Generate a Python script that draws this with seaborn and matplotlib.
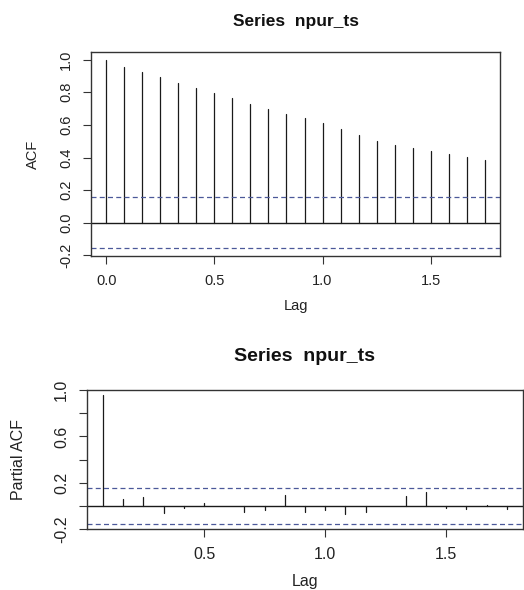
import numpy as np
import pandas as pd
import matplotlib
matplotlib.use('Agg')
import matplotlib.pyplot as plt
import seaborn as sns

sns.set_theme(style='white')
plt.rcParams['font.family'] = ['Liberation Sans', 'DejaVu Sans']

# monthly series, lags shown in years
freq = 12
acf_lag_months = [0, 1, 2, 3, 4, 5, 6, 7, 8, 9, 10, 11, 12, 13, 14, 15, 16, 17, 18, 19, 20, 21]
acf_vals = [1.000, 0.957, 0.922, 0.893, 0.858, 0.827, 0.794, 0.763, 0.726, 0.695, 0.667,
            0.640, 0.609, 0.572, 0.537, 0.504, 0.477, 0.461, 0.440, 0.420, 0.401, 0.383]

pacf_lag_months = [1, 2, 3, 4, 5, 6, 7, 8, 9, 10, 11, 12, 13, 14, 15, 16, 17, 18, 19, 20, 21]
pacf_vals = [0.957, 0.058, 0.075, -0.058, -0.022, 0.024, -0.003, -0.055, -0.038, 0.098, -0.052,
             -0.037, -0.069, -0.049, 0.002, 0.089, 0.118, -0.017, -0.028, 0.010, -0.024]

conf_lim = 0.157   # 1.96/sqrt(n)
title = 'Series  npur_ts'

line_col = '#1a1a1a'
ci_col = '#4b5899'
frame_col = '#333333'


def r_range(vals):
    # R style: data range expanded by 4%
    lo, hi = min(vals), max(vals)
    d = (hi - lo) * 0.04
    return lo - d, hi + d


def draw_corr(ax, lag_months, vals, ylab, yticklabels, fs_tick, fs_title, title_pad):
    lags = np.array(lag_months) / freq
    df = pd.DataFrame({
        'lag': np.repeat(lags, 2),
        'val': np.ravel([[0.0, v] for v in vals]),
        'k': np.repeat(np.arange(len(lags)), 2),
    })
    sns.lineplot(data=df, x='lag', y='val', units='k', estimator=None,
                 color=line_col, lw=0.9, ax=ax, legend=False)
    ax.axhline(0, color=line_col, lw=1.0)
    for c in (conf_lim, -conf_lim):
        ax.axhline(c, color=ci_col, lw=0.9, ls=(0, (4, 2.6)))

    ax.set_xticks([0.0, 0.5, 1.0, 1.5])
    ax.set_xticklabels(['0.0', '0.5', '1.0', '1.5'])
    ax.set_yticks([-0.2, 0.0, 0.2, 0.4, 0.6, 0.8, 1.0])
    ax.set_yticklabels(yticklabels)
    # limits after ticks so out-of-range ticks are dropped
    ax.set_xlim(*r_range(list(lags)))
    ax.set_ylim(*r_range(list(vals) + [conf_lim, -conf_lim]))

    ax.tick_params(bottom=True, left=True, direction='out', length=6, width=0.8,
                   color=frame_col, labelsize=fs_tick, labelcolor='#222222', pad=7)
    for lab in ax.get_yticklabels():
        lab.set_rotation(90)
        lab.set_verticalalignment('center')
    for sp in ax.spines.values():
        sp.set_visible(True)
        sp.set_color(frame_col)
        sp.set_linewidth(1.0)

    ax.set_xlabel('Lag', fontsize=fs_tick, color='#222222')
    ax.set_ylabel(ylab, fontsize=fs_tick, color='#222222')
    ax.set_title(title, fontsize=fs_title, fontweight='bold', color='#111111', pad=title_pad)


fig = plt.figure(figsize=(5.24, 5.9), dpi=100)
fig.patch.set_facecolor('white')

ax1 = fig.add_axes([0.1737, 0.5661, 0.7805, 0.3458])
draw_corr(ax1, acf_lag_months, acf_vals, 'ACF',
          ['-0.2', '0.0', '0.2', '0.4', '0.6', '0.8', '1.0'], 10.5, 12.5, 18.5)
ax1.xaxis.set_label_coords(0.5, -0.21)
ax1.yaxis.set_label_coords(-0.125, 0.5)

ax2 = fig.add_axes([0.166, 0.1029, 0.832, 0.2361])
draw_corr(ax2, pacf_lag_months, pacf_vals, 'Partial ACF',
          ['-0.2', '', '0.2', '', '0.6', '', '1.0'], 11.5, 14, 21)
ax2.xaxis.set_label_coords(0.5, -0.32)
ax2.yaxis.set_label_coords(-0.14, 0.5)

fig.savefig('out.png', dpi=100, facecolor='white')
